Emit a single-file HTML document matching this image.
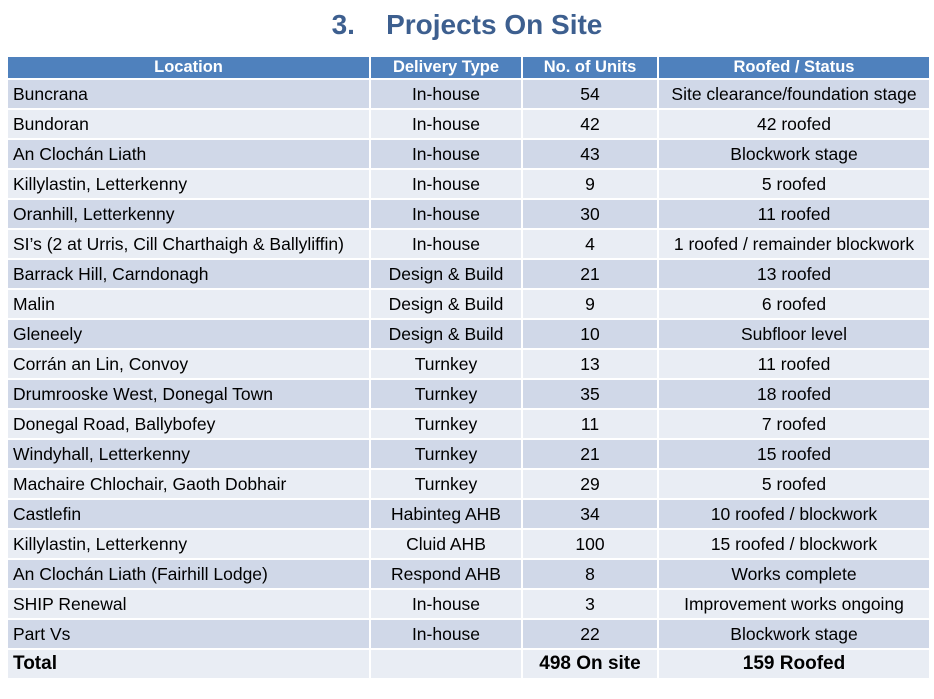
<!DOCTYPE html>
<html><head><meta charset="utf-8"><style>
body{margin:0;width:934px;height:699px;background:#fff;font-family:"Liberation Sans",sans-serif;position:relative;overflow:hidden}
h1{position:absolute;top:9px;left:0;width:934px;margin:0;text-align:center;font-size:28px;color:#3d5f8f;font-weight:bold;padding-left:0;box-sizing:border-box}
table{position:absolute;left:6px;top:55px;border-collapse:collapse;table-layout:fixed;font-size:17.5px;color:#000}
td,th{border:2px solid #fff;padding:0 5px;white-space:nowrap;overflow:hidden}
th{background:#4f81bd;color:#fff;height:21px;font-size:16.5px;padding:0}
td{height:28px}
tr:nth-child(even) td{background:#d0d8e8}
tr:nth-child(odd) td{background:#e9edf4}
td:not(:first-child){text-align:center;padding:0}
tr.t td{font-weight:bold;font-size:19px}
</style></head><body>
<h1>3.&nbsp;&nbsp;&nbsp;&nbsp;Projects On Site</h1>
<table>
<colgroup><col style="width:363px"><col style="width:152px"><col style="width:136px"><col style="width:272px"></colgroup>
<tr><th>Location</th><th>Delivery Type</th><th>No. of Units</th><th>Roofed / Status</th></tr>
<tr><td>Buncrana</td><td>In-house</td><td>54</td><td>Site clearance/foundation stage</td></tr>
<tr><td>Bundoran</td><td>In-house</td><td>42</td><td>42 roofed</td></tr>
<tr><td>An Clochán Liath</td><td>In-house</td><td>43</td><td>Blockwork stage</td></tr>
<tr><td>Killylastin, Letterkenny</td><td>In-house</td><td>9</td><td>5 roofed</td></tr>
<tr><td>Oranhill, Letterkenny</td><td>In-house</td><td>30</td><td>11 roofed</td></tr>
<tr><td>SI’s (2 at Urris, Cill Charthaigh &amp; Ballyliffin)</td><td>In-house</td><td>4</td><td>1 roofed / remainder blockwork</td></tr>
<tr><td>Barrack Hill, Carndonagh</td><td>Design &amp; Build</td><td>21</td><td>13 roofed</td></tr>
<tr><td>Malin</td><td>Design &amp; Build</td><td>9</td><td>6 roofed</td></tr>
<tr><td>Gleneely</td><td>Design &amp; Build</td><td>10</td><td>Subfloor level</td></tr>
<tr><td>Corrán an Lin, Convoy</td><td>Turnkey</td><td>13</td><td>11 roofed</td></tr>
<tr><td>Drumrooske West, Donegal Town</td><td>Turnkey</td><td>35</td><td>18 roofed</td></tr>
<tr><td>Donegal Road, Ballybofey</td><td>Turnkey</td><td>11</td><td>7 roofed</td></tr>
<tr><td>Windyhall, Letterkenny</td><td>Turnkey</td><td>21</td><td>15 roofed</td></tr>
<tr><td>Machaire Chlochair, Gaoth Dobhair</td><td>Turnkey</td><td>29</td><td>5 roofed</td></tr>
<tr><td>Castlefin</td><td>Habinteg AHB</td><td>34</td><td>10 roofed / blockwork</td></tr>
<tr><td>Killylastin, Letterkenny</td><td>Cluid AHB</td><td>100</td><td>15 roofed / blockwork</td></tr>
<tr><td>An Clochán Liath (Fairhill Lodge)</td><td>Respond AHB</td><td>8</td><td>Works complete</td></tr>
<tr><td>SHIP Renewal</td><td>In-house</td><td>3</td><td>Improvement works ongoing</td></tr>
<tr><td>Part Vs</td><td>In-house</td><td>22</td><td>Blockwork stage</td></tr>
<tr class="t"><td>Total</td><td></td><td>498 On site</td><td>159 Roofed</td></tr>
</table>
</body></html>
